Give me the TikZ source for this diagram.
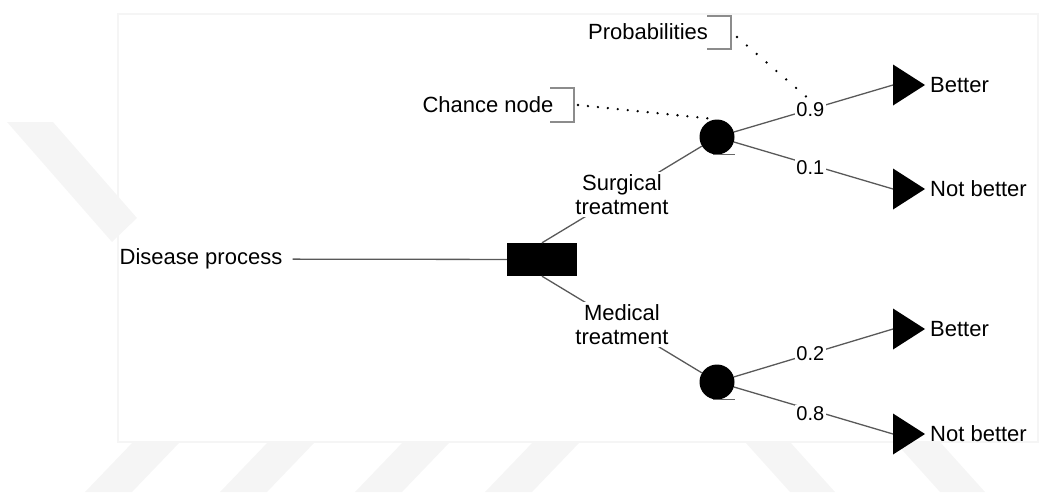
\documentclass[tikz,border=0pt]{standalone}
\usepackage{fontspec}
\setmainfont{Liberation Sans}
\tikzset{
  txt/.style={font=\fontsize{22}{24}\selectfont, align=center, inner sep=2pt},
  prob/.style={font=\fontsize{20}{22}\selectfont, fill=white, inner sep=1.5pt},
  branch/.style={draw=black!65, line width=1.3pt},
  decision/.style={rectangle, fill=black, minimum width=70pt, minimum height=33pt, inner sep=0pt},
  chance/.style={circle, fill=black, minimum size=35pt, inner sep=0pt},
  outcome/.style={fill=black},
  brk/.style={draw=black!45, line width=1.2pt},
  dots/.style={line width=2.6pt, line cap=round, dash pattern=on 0pt off #1},
  dots/.default=10pt,
  wm/.style={fill=black!4},
}
\begin{document}
\begin{tikzpicture}[x=1pt,y=-1pt]
\useasboundingbox (0,0) rectangle (1044,496);
% faint marks of the page behind
\draw[black!4, line width=1.2pt] (118,14) rectangle (1038,442);
\fill[wm] (7,122) -- (53,122) -- (137,218) -- (112,242) -- cycle;
\foreach \x in {85,220,355,485}
  \fill[wm] (\x,492) -- (\x+48,442) -- (\x+95,442) -- (\x+47,492) -- cycle;
\foreach \x in {745,895}
  \fill[wm] (\x,442) -- (\x+45,442) -- (\x+90,492) -- (\x+45,492) -- cycle;

% tree
\node[txt] (dis) at (201,259) {Disease process};
\node[decision] (dec) at (542,259.5) {};
\node[chance] (c1) at (717,137) {};
\node[chance] (c2) at (717,382) {};
\coordinate (b1) at (893,85);
\coordinate (n1) at (893,189);
\coordinate (b2) at (893,329);
\coordinate (n2) at (893,434);
\foreach \t in {b1,n1,b2,n2}
  \fill[outcome] (\t) ++(0,-20.5) -- ++(32,20.5) -- ++(-32,20.5) -- cycle;

\draw[branch, shorten <=8pt] (dis) -- (dec);
\draw[branch] (dec.north) -- node[txt, fill=white] (surg) {Surgical\\treatment} (c1);
\draw[branch] (dec.south) -- node[txt, fill=white] (med) {Medical\\treatment} (c2);

\draw[branch] (c1) -- node[prob, pos=.48] (p9) {0.9} (b1);
\draw[branch] (c1) -- node[prob, pos=.48, yshift=-3pt] (p1) {0.1} (n1);
\draw[branch] (c2) -- node[prob, pos=.48] (p2) {0.2} (b2);
\draw[branch] (c2) -- node[prob, pos=.48, yshift=-4pt] (p8) {0.8} (n2);

\foreach \c in {c1,c2}
  \draw[black!60, line width=1.2pt] ([xshift=-4pt]\c.south) -- ++(22,0);

\node[txt, anchor=west] (ob1) at (928,85) {Better};
\node[txt, anchor=west] (on1) at (928,189) {Not better};
\node[txt, anchor=west] (ob2) at (928,329) {Better};
\node[txt, anchor=west] (on2) at (928,434) {Not better};

% callouts
\node[txt] (chn) at (488,105) {Chance node};
\draw[brk] (550,88) -| (574,122) -- (550,122);
\coordinate (chtip) at (578,105);
\draw[dots] (chtip) -- (c1.north);

\node[txt] (prb) at (648,32) {Probabilities};
\draw[brk] (707,16) -| (731,49) -- (707,49);
\coordinate (prtip) at (737,37);
\draw[dots=13pt] (prtip) -- (p9.north);
\end{tikzpicture}
\end{document}
